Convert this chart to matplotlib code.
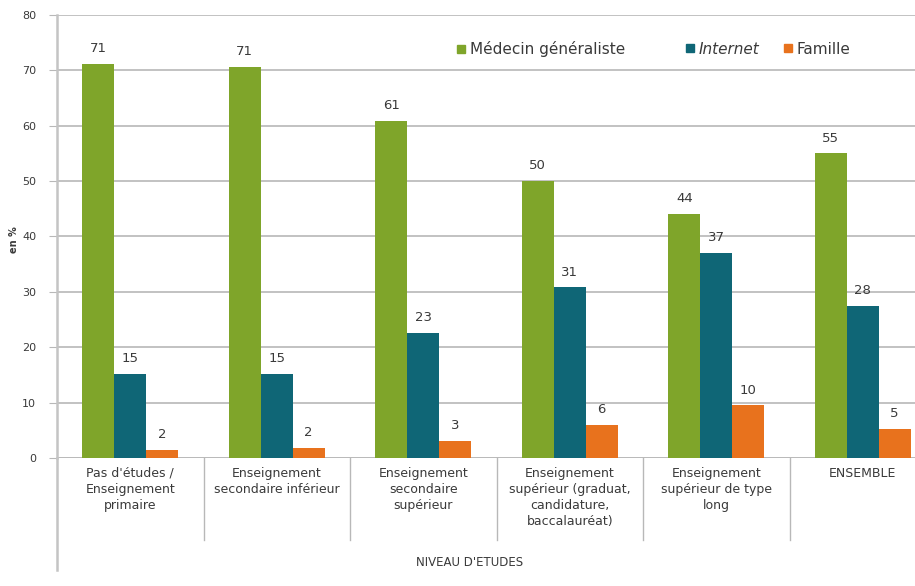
import math
import numpy as np
import matplotlib
matplotlib.use("Agg")
import matplotlib.pyplot as plt
from matplotlib.lines import Line2D

# data
categories = [
    "Pas d'études /\nEnseignement\nprimaire",
    "Enseignement\nsecondaire inférieur",
    "Enseignement\nsecondaire\nsupérieur",
    "Enseignement\nsupérieur (graduat,\ncandidature,\nbaccalauréat)",
    "Enseignement\nsupérieur de type\nlong",
    "ENSEMBLE",
]
series_names = ["Médecin généraliste", "Internet", "Famille"]
medecin = [71.1, 70.6, 60.8, 50.0, 44.0, 55.0]
internet = [15.2, 15.2, 22.6, 30.8, 37.0, 27.5]
famille = [1.5, 1.8, 3.1, 6.0, 9.5, 5.2]
colors = ["#7fa52a", "#0f6676", "#e8721d"]
y_ticks = [0, 10, 20, 30, 40, 50, 60, 70, 80]

text_col = "#3a3a3a"
grid_col = "#b8b8b8"
W, H = 915, 586
fig = plt.figure(figsize=(W / 100, H / 100), dpi=100)

# axes runs off the right edge like the cropped original
x0, y0, x1, y1 = 57, 458, 57 + 6 * 146.5, 15
ax = fig.add_axes([x0 / W, 1 - y0 / H, (x1 - x0) / W, (y0 - y1) / H])

x = np.arange(len(categories))
bw = 0.218
values = [medecin, internet, famille]
for i, (vals, col, name) in enumerate(zip(values, colors, series_names)):
    pos = x + (i - 1) * bw
    ax.bar(pos, vals, width=bw, color=col, label=name, zorder=3)
    for p, v in zip(pos, vals):
        ax.text(p, v + 1.6, str(math.floor(v + 0.5)), ha="center", va="bottom",
                fontsize=9.5, color=text_col, zorder=4)

ax.set_xlim(-0.5, len(categories) - 0.5)
ax.set_ylim(0, 80)
ax.set_yticks(y_ticks)
ax.yaxis.grid(True, color=grid_col, linewidth=1.2, zorder=0)
ax.set_axisbelow(True)
ax.tick_params(axis="y", labelsize=8, labelcolor=text_col, length=6,
               color=grid_col, pad=9)
ax.tick_params(axis="x", length=0, labelbottom=False)
for s in ["top", "right", "bottom"]:
    ax.spines[s].set_visible(False)
ax.spines["left"].set_color("#c4c4c4")
ax.spines["left"].set_linewidth(1.8)
ax.axhline(0, color="#9a9a9a", linewidth=1.0, zorder=2)

trans = ax.get_xaxis_transform()
sep_bottom = -(540 - 458) / (y0 - y1)
for k in range(1, len(categories)):
    ax.add_line(Line2D([k - 0.5, k - 0.5], [0, sep_bottom], transform=trans,
                       color=grid_col, linewidth=1.0, clip_on=False))
ax.add_line(Line2D([-0.5, -0.5], [0, -(570 - 458) / (y0 - y1)], transform=trans,
                   color="#c4c4c4", linewidth=1.8, clip_on=False))

for xi, lab in zip(x, categories):
    ax.text(xi, -(467 - 458) / (y0 - y1), lab, transform=trans, ha="center",
            va="top", fontsize=9, color=text_col, linespacing=1.3)

fig.text(470 / W, 1 - 562 / H, "NIVEAU D'ETUDES", ha="center", va="center",
         fontsize=8.5, color=text_col)
fig.text(14 / W, 1 - 240 / H, "en %", rotation=90, ha="center", va="center",
         fontsize=7, fontweight="bold", color=text_col)

# one legend entry per slot, placed where the reference has them
legend_left = [456, 685, 783]
for name, col, lx in zip(series_names, colors, legend_left):
    h = Line2D([], [], marker="s", linestyle="", markersize=6,
               markerfacecolor=col, markeredgecolor=col)
    leg = fig.legend([h], [name], loc="center left",
                     bbox_to_anchor=(lx / W, 1 - 49 / H), frameon=False,
                     fontsize=11, handlelength=0.6, handletextpad=0.3,
                     borderaxespad=0, borderpad=0)
    txt = leg.get_texts()[0]
    txt.set_color(text_col)
    if name == "Internet":
        txt.set_fontstyle("italic")

fig.savefig("out.png", dpi=100)
